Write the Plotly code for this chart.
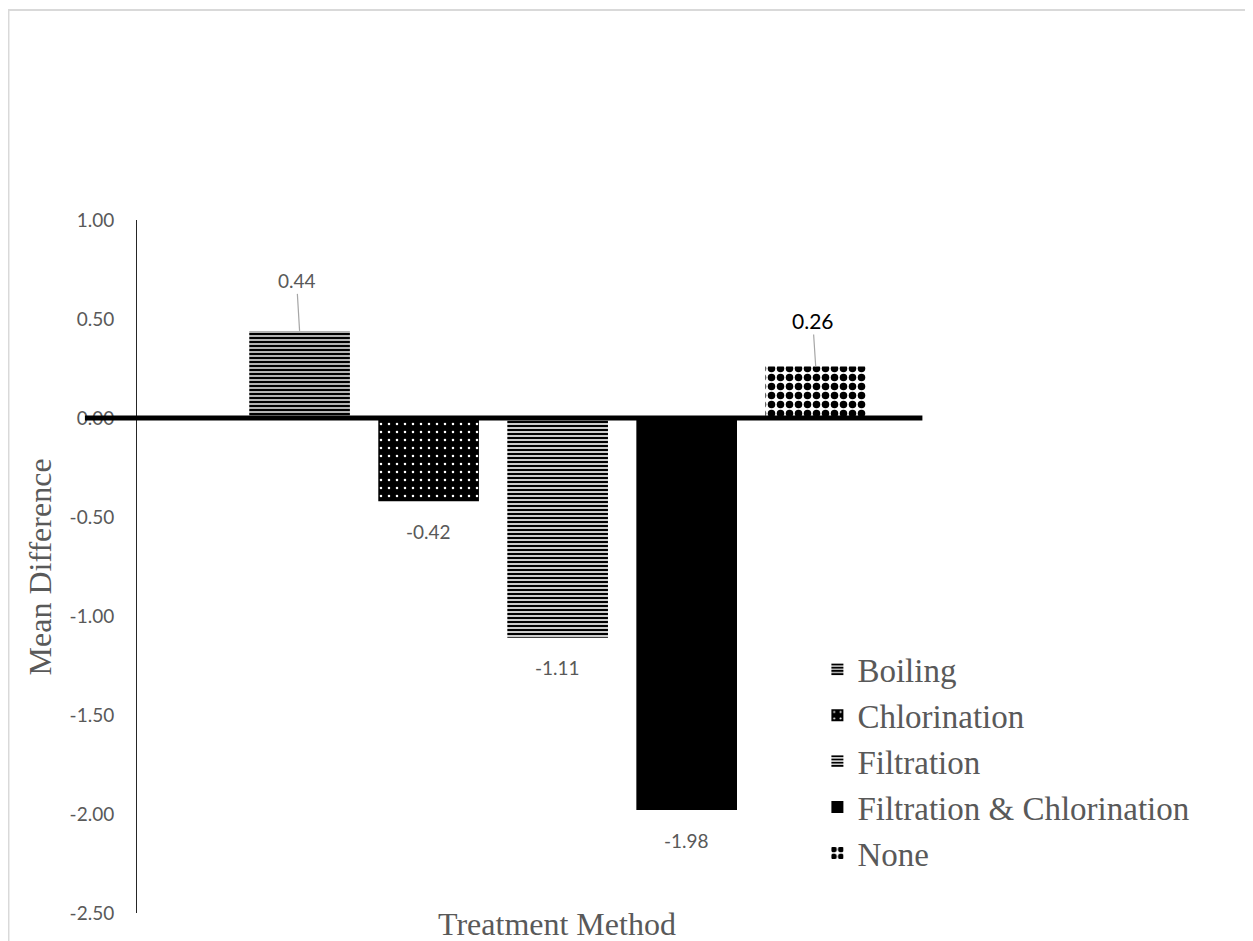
import plotly.graph_objects as go

categories = ["Boiling", "Chlorination", "Filtration", "Filtration & Chlorination", "None"]
values = [0.44, -0.42, -1.11, -1.98, 0.26]
labels = ["0.44", "-0.42", "-1.11", "-1.98", "0.26"]
y_ticks = [1.0, 0.5, 0.0, -0.5, -1.0, -1.5, -2.0, -2.5]
y_ticktext = ["1.00", "0.50", "0.00", "-0.50", "-1.00", "-1.50", "-2.00", "-2.50"]

patterns = [
    dict(shape="-", fgcolor="black", bgcolor="white", size=4, solidity=0.65, fillmode="replace"),
    dict(shape=".", fgcolor="white", bgcolor="black", size=8, solidity=0.08, fillmode="replace"),
    dict(shape="-", fgcolor="black", bgcolor="white", size=4, solidity=0.6, fillmode="replace"),
    dict(shape="", fgcolor="black", bgcolor="black"),
    dict(shape=".", fgcolor="black", bgcolor="white", size=9, solidity=0.55, fillmode="replace"),
]

GRAY = "#595959"
SANS = "Lato, Open Sans, sans-serif"
SERIF = "Liberation Serif, Times New Roman, serif"

fig = go.Figure()
for i, (c, v) in enumerate(zip(categories, values)):
    fig.add_trace(go.Bar(
        x=[c], y=[v], name=c, width=0.78,
        marker=dict(color="black", line=dict(width=0), pattern=patterns[i]),
        legendgroup=c,
    ))

annotations = []
for i, (c, v, t) in enumerate(zip(categories, values, labels)):
    if v >= 0:
        big = (i == len(categories) - 1)
        annotations.append(dict(
            x=c, y=v, xref="x", yref="y", text=t, showarrow=True,
            ax=-3, ay=-50 if not big else -46, arrowhead=0, arrowwidth=1.2,
            arrowcolor="#a6a6a6", standoff=0,
            font=dict(family=SANS, size=21 if big else 19, color="black" if big else GRAY),
        ))
    else:
        annotations.append(dict(
            x=c, y=v, xref="x", yref="y", text=t, showarrow=False,
            yanchor="middle", yshift=-30,
            font=dict(family=SANS, size=19, color=GRAY),
        ))

# axis titles
annotations.append(dict(
    text="Treatment Method", xref="paper", yref="paper", x=0.5, y=-0.016,
    xanchor="center", yanchor="middle", showarrow=False,
    font=dict(family=SERIF, size=32, color=GRAY),
))
annotations.append(dict(
    text="Mean Difference", xref="paper", yref="paper", x=-0.1155, y=0.5,
    xanchor="center", yanchor="middle", showarrow=False, textangle=-90,
    font=dict(family=SERIF, size=32, color=GRAY),
))

fig.update_layout(
    width=1245, height=933,
    margin=dict(l=129, r=276, t=212, b=28, autoexpand=False),
    paper_bgcolor="white", plot_bgcolor="white",
    barmode="overlay",
    showlegend=True,
    legend=dict(
        x=0.81, y=0.392, xanchor="left", yanchor="top",
        font=dict(family=SERIF, size=33, color=GRAY),
        tracegroupgap=0, bgcolor="rgba(0,0,0,0)",
    ),
    annotations=annotations,
    shapes=[
        dict(type="line", xref="paper", yref="y", x0=-0.062, x1=0.935, y0=0, y1=0,
             line=dict(color="black", width=5), layer="above"),
        dict(type="rect", xref="paper", yref="paper", x0=-0.153, x1=1.5, y0=-0.2, y1=1.303,
             line=dict(color="#d9d9d9", width=2), layer="below"),
    ],
    xaxis=dict(
        range=[-1.26, 5.25], showticklabels=False, showline=False, showgrid=False,
        zeroline=False, ticks="", automargin=False,
    ),
    yaxis=dict(
        range=[-2.5, 1.0], tickvals=y_ticks, ticktext=y_ticktext,
        showgrid=False, zeroline=False, showline=True, linecolor="#262626", linewidth=1,
        ticks="", ticklabelstandoff=18,
        tickfont=dict(family=SANS, size=19, color=GRAY),
        automargin=False,
    ),
)

fig.write_html("out.html")
